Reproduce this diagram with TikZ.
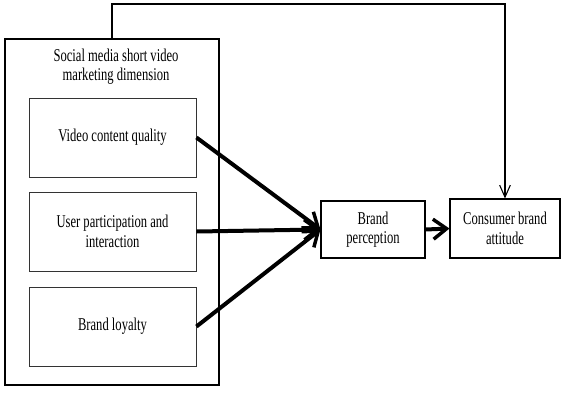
\documentclass[tikz,border=0pt]{standalone}
\usepackage{fontspec}
\setmainfont{Liberation Serif}[FakeStretch=0.70]
\usetikzlibrary{arrows.meta}
\begin{document}
\begin{tikzpicture}[x=0.75pt,y=-0.75pt,
  txt/.style={font=\fontsize{13.5}{14.5}\selectfont},
  innerbox/.style={txt, draw=black!80, line width=0.7pt, minimum width=125.25pt, minimum height=59.25pt, align=center, inner sep=0pt},
  smallbox/.style={txt, draw, line width=0.8pt, align=center, inner sep=0pt},
  outerbox/.style={draw, line width=1.1pt, minimum width=160.5pt, minimum height=259.5pt, inner sep=0pt},
  thickarrow/.style={line width=3pt, -{Straight Barb[length=10pt,width=15pt,line width=2.6pt]}},
  thinarrow/.style={line width=0.8pt, -{Straight Barb[length=9pt,width=8pt]}}]
\useasboundingbox (0,0) rectangle (570,404);
\node[outerbox] (outer) at (112,212) {};
\node[txt, align=center] (title) at (116,67) {Social media short video\\marketing dimension};
\node[innerbox] (b1) at (112.5,137.5) {Video content quality};
\node[innerbox] (b2) at (112.5,231.5) {User participation and\\interaction};
\node[innerbox] (b3) at (112.5,326.5) {Brand loyalty};
\node[smallbox, minimum width=78pt, minimum height=42.75pt] (bp) at (373,229.5) {Brand\\perception};
\node[smallbox, minimum width=82.5pt, minimum height=44.25pt] (cba) at (505,228.5) {Consumer brand\\attitude};
\coordinate (top) at (300,4);
\draw[thickarrow] (b1.east) -- (bp.west);
\draw[thickarrow] (b2.east) -- (bp.west);
\draw[thickarrow] (b3.east) -- (bp.west);
\draw[thickarrow] (bp.east) -- (cba.west);
\draw[thinarrow] (outer.north) |- (top) -| (cba.north);
\end{tikzpicture}
\end{document}
